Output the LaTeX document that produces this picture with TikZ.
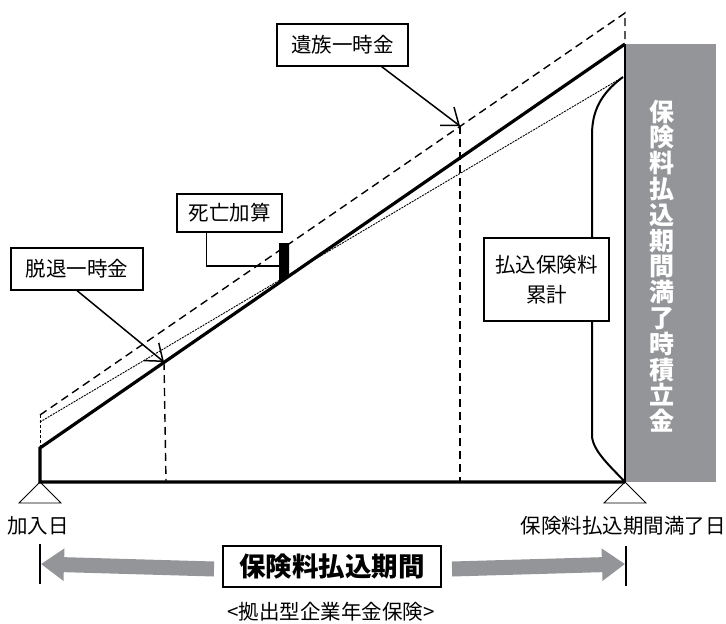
\documentclass[tikz,border=0pt]{standalone}
\usepackage{fontspec}
\setmainfont{Noto Sans CJK JP}
\usetikzlibrary{arrows.meta,positioning}

\definecolor{fundgray}{RGB}{147,149,152}

\tikzset{
    lbl/.style={draw, line width=1.2pt, fill=white, inner sep=0pt,
        font=\fontsize{20.5}{30}\selectfont, align=center},
    heavy/.style={line width=3.2pt},
    dashline/.style={line width=1.4pt, dash pattern=on 8pt off 5pt},
    fineline/.style={line width=0.9pt, dash pattern=on 2pt off 1pt},
    ptr/.style={line width=1.5pt, -{Straight Barb[length=15pt,width=23pt,line width=1.5pt]}},
    bigarrow/.style={fundgray, line width=15pt, -{Triangle[length=23pt,width=31pt]}},
    tri/.style={line width=0.8pt},
}

\begin{document}
    \begin{tikzpicture}[x=1pt,y=-1pt]
        \useasboundingbox (0,0) rectangle (726,624);

        % points of the lines
        \coordinate (A0) at (40,482);
        \coordinate (A1) at (625,482);
        \coordinate (T0) at (40,448);
        \coordinate (T1) at (625,44);
        \coordinate (D0) at (40,415);
        \coordinate (D1) at (625,13);
        \coordinate (P0) at (40,422);
        \coordinate (P1) at (623,77);
        \coordinate (dtpt) at (164,362);
        \coordinate (dtbase) at (166,482);
        \coordinate (yzpt) at (460,126);
        \coordinate (yzbase) at (460,482);
        \coordinate (bar) at (279,266);

        % accumulated fund
        \fill[fundgray] (624,44) rectangle (716,482);
        \node[text=white, align=center, inner sep=0pt,
            font=\fontsize{25}{25.8}\selectfont\bfseries] (mk) at (662,266)
            {保\\険\\料\\払\\込\\期\\間\\満\\了\\時\\積\\立\\金};

        % lines
        \draw[line width=0.6pt, dash pattern=on 3pt off 2pt] (D0) -- (T0);
        \draw[dashline] (D0) -- (D1) -- (T1);
        \draw[fineline] (P0) -- (P1);
        \draw[dashline] (dtpt) -- (dtbase);
        \draw[dashline] (yzpt) -- (yzbase);
        \draw[line width=2pt] (T1) -- (A1);
        \draw[heavy] (T1) -- (T0) -- (A0) -- (A1);

        % paid premiums
        \draw[line width=2pt] (P1) .. controls (600,94) and (592,112) .. (592,135)
            -- (592,437) .. controls (594,452) and (610,466) .. (A1);

        % death bonus bar
        \fill (279,243) -- (289,243) -- (289,276) -- (279,283) -- cycle;

        % labels
        \node[lbl, minimum width=131, minimum height=42] (yz) at (342.5,45) {遺族一時金};
        \node[lbl, minimum width=132, minimum height=42] (dt) at (77,269) {脱退一時金};
        \node[lbl, minimum width=105, minimum height=38] (sb) at (229.5,213) {死亡加算};
        \node[lbl, minimum width=125, minimum height=83] (hr) at (546.5,279.5) {払込保険料\\累計};

        \draw[ptr] ([xshift=-27pt]yz.south east) -- (yzpt);
        \draw[ptr] (dt.south) -- (dtpt);
        \draw[line width=1.2pt] ([xshift=30pt]sb.south west) |- (bar);

        % start and end
        \draw[tri] (19,503) -- (A0) -- (61,503) -- cycle;
        \draw[tri] (604,503) -- (A1) -- (646,503) -- cycle;
        \node[anchor=west, inner sep=0pt, font=\fontsize{20.5}{22}\selectfont] (start) at (7,526) {加入日};
        \node[anchor=east, inner sep=0pt, font=\fontsize{20.5}{22}\selectfont] (end) at (726,526) {保険料払込期間満了日};

        % payment period
        \node[draw, line width=2pt, inner sep=0pt, minimum width=218, minimum height=41,
            font=\fontsize{26.5}{28}\selectfont\bfseries] (pp) at (332,566.5) {保険料払込期間};
        \coordinate (ltip) at (41,564);
        \coordinate (rtip) at (625,564);
        \draw[bigarrow] ([xshift=-8pt,yshift=-2.5pt]pp.west) -- (ltip);
        \draw[bigarrow] ([xshift=10pt,yshift=-2.5pt]pp.east) -- (rtip);
        \draw[line width=1.5pt] (40,544) -- (40,584);
        \draw[line width=1.5pt] (626,546) -- (626,586);

        \node[inner sep=0pt, font=\fontsize{20.5}{22}\selectfont] (cap) at (331,612) {<拠出型企業年金保険>};

    \end{tikzpicture}
\end{document}
